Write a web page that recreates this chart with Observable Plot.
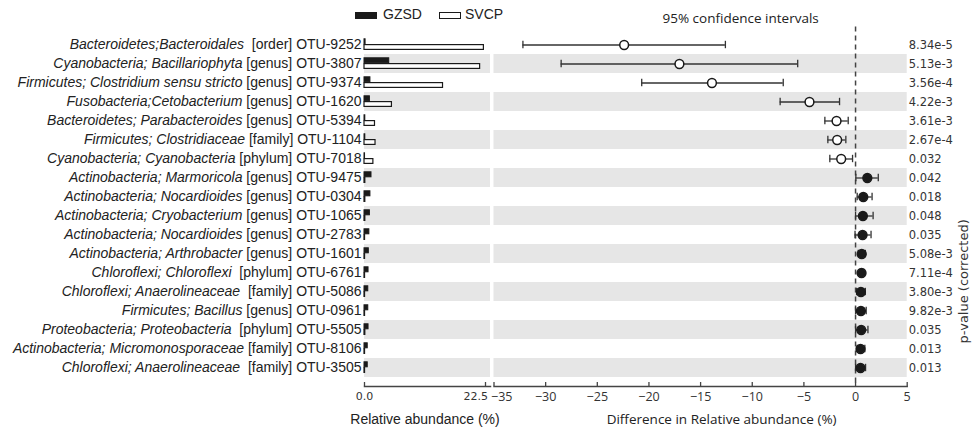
<!DOCTYPE html>
<html><head><meta charset="utf-8">
<script src="https://cdn.jsdelivr.net/npm/d3@7"></script>
<script src="https://cdn.jsdelivr.net/npm/@observablehq/plot@0.6"></script>
<style>
body{margin:0;background:#fff;}
#chart{position:relative;width:972px;height:428px;overflow:hidden;background:#fff;}
#chart svg{position:absolute;top:0;overflow:visible;}
.leg{position:absolute;font-family:"Liberation Sans";font-size:14px;line-height:16px;color:#222;white-space:nowrap;}
.sw{position:absolute;box-sizing:border-box;}
</style></head><body><div id="chart"></div>
<script>
const taxa = ["Bacteroidetes;Bacteroidales ", "Cyanobacteria; Bacillariophyta", "Firmicutes; Clostridium sensu stricto", "Fusobacteria;Cetobacterium", "Bacteroidetes; Parabacteroides", "Firmicutes; Clostridiaceae", "Cyanobacteria; Cyanobacteria", "Actinobacteria; Marmoricola", "Actinobacteria; Nocardioides", "Actinobacteria; Cryobacterium", "Actinobacteria; Nocardioides", "Actinobacteria; Arthrobacter", "Chloroflexi; Chloroflexi ", "Chloroflexi; Anaerolineaceae ", "Firmicutes; Bacillus", "Proteobacteria; Proteobacteria ", "Actinobacteria; Micromonosporaceae", "Chloroflexi; Anaerolineaceae "];
const ranks = ["[order]", "[genus]", "[genus]", "[genus]", "[genus]", "[family]", "[phylum]", "[genus]", "[genus]", "[genus]", "[genus]", "[genus]", "[phylum]", "[family]", "[genus]", "[phylum]", "[family]", "[family]"];
const otus = ["OTU-9252", "OTU-3807", "OTU-9374", "OTU-1620", "OTU-5394", "OTU-1104", "OTU-7018", "OTU-9475", "OTU-0304", "OTU-1065", "OTU-2783", "OTU-1601", "OTU-6761", "OTU-5086", "OTU-0961", "OTU-5505", "OTU-8106", "OTU-3505"];
const gzsd = [0.2, 4.6, 1.1, 1.0, 0.15, 0.15, 0.1, 1.3, 1.1, 1.0, 0.9, 0.8, 0.75, 0.7, 0.7, 0.75, 0.6, 0.6];
const svcp = [22.2, 21.5, 14.6, 5.1, 1.95, 2.05, 1.65, 0.15, 0.15, 0.15, 0.1, 0.1, 0.1, 0.1, 0.1, 0.15, 0.1, 0.1];
const diffMean = [-22.4, -17.05, -13.9, -4.46, -1.84, -1.78, -1.39, 1.14, 0.75, 0.71, 0.68, 0.6, 0.58, 0.52, 0.52, 0.55, 0.48, 0.48];
const ciLow = [-32.2, -28.5, -20.7, -7.3, -2.97, -2.68, -2.49, 0.03, 0.16, 0.0, -0.05, 0.26, 0.38, 0.1, 0.0, 0.0, 0.16, 0.0];
const ciHigh = [-12.6, -5.6, -7.0, -1.55, -0.71, -0.94, -0.29, 2.2, 1.6, 1.7, 1.5, 0.95, 0.8, 0.95, 1.03, 1.2, 0.9, 0.97];
const pvals = ["8.34e-5", "5.13e-3", "3.56e-4", "4.22e-3", "3.61e-3", "2.67e-4", "0.032", "0.042", "0.018", "0.048", "0.035", "5.08e-3", "7.11e-4", "3.80e-3", "9.82e-3", "0.035", "0.013", "0.013"];
const leftTicks = [0, 22.5];
const diffTicks = [-35, -30, -25, -20, -15, -10, -5, 0, 5];

const rows = otus.map((otu, i) => ({otu, taxon: taxa[i], rank: ranks[i], gzsd: gzsd[i], svcp: svcp[i],
  mean: diffMean[i], lo: ciLow[i], hi: ciHigh[i], p: pvals[i], idx: i}));
const shaded = rows.filter(d => d.idx % 2 === 1);

const H = 428, MT = 33.5, MB = 42;
const ink = "#1a1a1a", axisInk = "#444", band = "#e6e6e6";

const left = Plot.plot({
  width: 490, height: H, marginLeft: 364, marginRight: 5, marginTop: MT, marginBottom: MB,
  style: {fontFamily: "Liberation Sans", fontSize: "14px", color: "#222", background: "transparent", overflow: "visible"},
  x: {domain: [0, 22.5]},
  y: {domain: otus, insetBottom: 8.5, padding: 0},
  marks: [
    Plot.cell(shaded, {y: "otu", fill: band, insetRight: -5}),
    Plot.barX(rows, {y: "otu", x: "svcp", fill: "white", stroke: ink, strokeWidth: 1.2, insetTop: 9.6, insetBottom: 4.6}),
    Plot.barX(rows, {y: "otu", x: "gzsd", fill: ink, stroke: ink, strokeWidth: 1, insetTop: 3.8, insetBottom: 10.2}),
    Plot.axisY({tickSize: 0, tickPadding: 3, fontSize: 14, fill: "#222", label: null}),
    Plot.frame({anchor: "bottom", stroke: axisInk, strokeWidth: 1.5, insetRight: -5}),
    Plot.axisX({ticks: leftTicks, tickSize: 4, dy: -4, fill: "none", stroke: axisInk, strokeWidth: 1.3, label: null}),
    Plot.axisX({ticks: [leftTicks[0]], tickSize: 0, tickPadding: 6, tickFormat: ".1f", fontFamily: "DejaVu Sans", fontSize: 11, fill: "#333", label: null}),
    Plot.axisX({ticks: [leftTicks[1]], tickSize: 0, tickPadding: 6, tickFormat: ".1f", fontFamily: "DejaVu Sans", fontSize: 11, fill: "#333", textAnchor: "end", dx: 2.5, label: null}),
    Plot.text(["Relative abundance (%)"], {frameAnchor: "bottom", text: d => d, dy: 37, fontSize: 14, fill: "#222"})
  ]
});

const right = Plot.plot({
  width: 482, height: H, marginLeft: 3.5, marginRight: 65.3, marginTop: MT, marginBottom: MB,
  style: {fontFamily: "Open Sans", fontSize: "13px", color: "#222", background: "transparent", overflow: "visible"},
  x: {domain: [diffTicks[0], diffTicks[diffTicks.length - 1]]},
  y: {domain: otus, insetBottom: 8.5, padding: 0, axis: null},
  marks: [
    Plot.cell(shaded, {y: "otu", fill: band}),
    Plot.ruleX([0], {stroke: axisInk, strokeWidth: 1.5, strokeDasharray: "5,4", insetTop: -7}),
    Plot.ruleY(rows, {y: "otu", x1: "lo", x2: "hi", stroke: "#333", strokeWidth: 1.3}),
    Plot.tickX(rows, {y: "otu", x: "lo", stroke: "#333", strokeWidth: 1.3, insetTop: 5.8, insetBottom: 5.8}),
    Plot.tickX(rows, {y: "otu", x: "hi", stroke: "#333", strokeWidth: 1.3, insetTop: 5.8, insetBottom: 5.8}),
    Plot.dot(rows, {y: "otu", x: "mean", r: 4.4, fill: d => d.mean < 0 ? "white" : ink, stroke: ink, strokeWidth: 1.5}),
    Plot.text(rows, {y: "otu", text: "p", frameAnchor: "right", textAnchor: "start", dx: 1.5, fontFamily: "DejaVu Sans", fontSize: 11.5, fill: "#333"}),
    Plot.text(["p-value (corrected)"], {frameAnchor: "right", text: d => d, rotate: -90, dx: 57, dy: 9, fontFamily: "DejaVu Sans", fontSize: 13, fill: "#333"}),
    Plot.text(["95% confidence intervals"], {frameAnchor: "top", text: d => d, dx: 40, dy: -21, fontFamily: "Open Sans", fontSize: 13.5, fill: "#222"}),
    Plot.frame({anchor: "bottom", stroke: axisInk, strokeWidth: 1.5}),
    Plot.axisX({ticks: diffTicks, tickSize: 4, dy: -4, fill: "none", stroke: axisInk, strokeWidth: 1.3, label: null}),
    Plot.axisX({ticks: [diffTicks[0]], tickSize: 0, tickPadding: 6, fontFamily: "Open Sans", fontSize: 12.5, fill: "#333", textAnchor: "start", dx: -3, label: null}),
    Plot.axisX({ticks: diffTicks.slice(1), tickSize: 0, tickPadding: 6, fontFamily: "Open Sans", fontSize: 12.5, fill: "#333", label: null}),
    Plot.text(["Difference in Relative abundance (%)"], {frameAnchor: "bottom", text: d => d, dx: 21, dy: 37, fontFamily: "Open Sans", fontSize: 13.5, fill: "#222"})
  ]
});

// mixed italic / roman row labels
const ns = "http://www.w3.org/2000/svg";
left.querySelectorAll('[aria-label="y-axis tick label"] text').forEach(t => {
  const r = rows.find(d => d.otu === t.textContent.trim());
  if (!r) return;
  t.textContent = "";
  t.setAttribute("xml:space", "preserve");
  const a = document.createElementNS(ns, "tspan");
  a.setAttribute("font-style", "italic");
  a.textContent = r.taxon;
  const b = document.createElementNS(ns, "tspan");
  b.textContent = " " + r.rank + " " + r.otu;
  t.append(a, b);
});

const chart = document.getElementById("chart");
left.style.left = "0px";
right.style.left = "490px";
chart.append(left, right);

// legend
const legend = [
  {name: "GZSD", fill: ink, border: "none", sx: 355, tx: 383},
  {name: "SVCP", fill: "#fff", border: "1.3px solid " + ink, sx: 439, tx: 465}
];
for (const l of legend) {
  const s = document.createElement("div");
  s.className = "sw";
  Object.assign(s.style, {left: l.sx + "px", top: "12px", width: "22px", height: "6.5px", background: l.fill, border: l.border});
  const t = document.createElement("span");
  t.className = "leg";
  t.textContent = l.name;
  Object.assign(t.style, {left: l.tx + "px", top: "6px"});
  chart.append(s, t);
}
</script></body></html>
